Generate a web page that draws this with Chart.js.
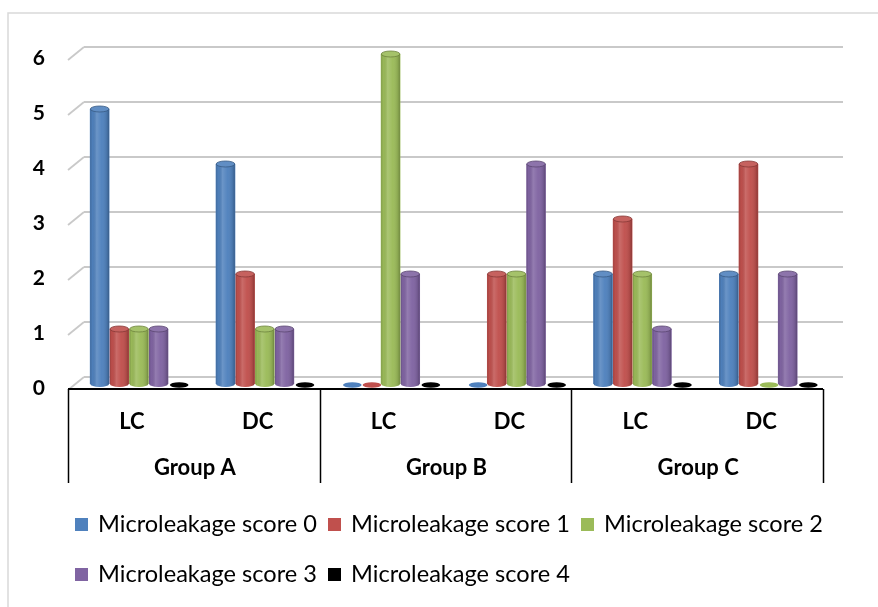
<!DOCTYPE html>
<html><head><meta charset="utf-8">
<script src="https://cdn.jsdelivr.net/npm/chart.js@4.4.1/dist/chart.umd.min.js"></script>
<style>html,body{margin:0;padding:0;background:#fff}#wrap{width:878px;height:607px;position:relative}canvas{display:block}</style>
</head><body><div id="wrap"><canvas id="c" width="878" height="607"></canvas></div>
<script>
const groups = ['Group A', 'Group B', 'Group C'];
const subLabels = ['LC', 'DC', 'LC', 'DC', 'LC', 'DC'];
const categories = ['Group A LC', 'Group A DC', 'Group B LC', 'Group B DC', 'Group C LC', 'Group C DC'];
const seriesNames = ['Microleakage score 0', 'Microleakage score 1', 'Microleakage score 2', 'Microleakage score 3', 'Microleakage score 4'];
const score0 = [5, 4, 0, 0, 2, 2];
const score1 = [1, 2, 0, 2, 3, 4];
const score2 = [1, 1, 6, 2, 2, 0];
const score3 = [1, 1, 2, 4, 1, 2];
const score4 = [0, 0, 0, 0, 0, 0];
const yTicks = [0, 1, 2, 3, 4, 5, 6];
const colors = ['#4F81BD', '#C0504D', '#9BBB59', '#8064A2', '#000000'];

const seriesValues = [score0, score1, score2, score3, score4];

const FONT = 'Lato, "Open Sans", "DejaVu Sans", sans-serif';

function shade(hex, amt) {
  const n = parseInt(hex.slice(1), 16);
  let r = (n >> 16) & 255, g = (n >> 8) & 255, b = n & 255;
  const f = v => Math.max(0, Math.min(255, Math.round(amt >= 0 ? v + (255 - v) * amt : v * (1 + amt))));
  return 'rgb(' + f(r) + ',' + f(g) + ',' + f(b) + ')';
}

function fitText(ctx, text, x, y, targetW) {
  const w = ctx.measureText(text).width;
  const s = targetW / w;
  ctx.save();
  ctx.translate(x, y);
  ctx.scale(s, 1);
  ctx.fillText(text, 0, 0);
  ctx.restore();
}

const decor = {
  id: 'decor',
  beforeDatasetsDraw(chart) {
    const ctx = chart.ctx, y = chart.scales.y, a = chart.chartArea;
    ctx.save();
    ctx.strokeStyle = '#d9d9d9'; ctx.lineWidth = 1.5;
    ctx.beginPath(); ctx.moveTo(8, 607); ctx.lineTo(8, 13); ctx.lineTo(878, 13); ctx.stroke();
    ctx.strokeStyle = '#c9c9c9'; ctx.lineWidth = 1.8;
    yTicks.forEach(v => {
      const py = y.getPixelForValue(v) - 7;
      ctx.beginPath(); ctx.moveTo(a.left + 8, py); ctx.lineTo(a.right + 12, py); ctx.stroke();
      ctx.beginPath(); ctx.moveTo(a.left - 8, py + 13); ctx.lineTo(a.left + 8, py); ctx.stroke();
    });
    ctx.restore();
  },
  afterDatasetsDraw(chart) {
    const ctx = chart.ctx, x = chart.scales.x, y = chart.scales.y, a = chart.chartArea;
    const base = y.getPixelForValue(0);
    ctx.save();
    chart.data.datasets.forEach((ds, di) => {
      const meta = chart.getDatasetMeta(di);
      const col = colors[di];
      meta.data.forEach((el, i) => {
        const w = el.width, cx = el.x, top = el.y;
        const l = cx - w / 2, r = cx + w / 2;
        const rx = w / 2 - 0.5;
        if (ds.data[i] === 0) {
          ctx.fillStyle = col;
          ctx.beginPath(); ctx.ellipse(cx + 1, base + 1, rx, 2.8, 0, 0, Math.PI * 2); ctx.fill();
          return;
        }
        ctx.fillStyle = col;
        ctx.beginPath(); ctx.ellipse(cx, base, rx, 3, 0, 0, Math.PI); ctx.fill();
        const g = ctx.createLinearGradient(l, 0, r, 0);
        g.addColorStop(0, 'rgba(0,0,0,0.22)');
        g.addColorStop(0.12, 'rgba(0,0,0,0.02)');
        g.addColorStop(0.35, 'rgba(255,255,255,0.16)');
        g.addColorStop(0.6, 'rgba(255,255,255,0.03)');
        g.addColorStop(0.88, 'rgba(0,0,0,0.12)');
        g.addColorStop(1, 'rgba(0,0,0,0.32)');
        ctx.fillStyle = g;
        ctx.beginPath();
        ctx.moveTo(l + 0.5, top);
        ctx.lineTo(l + 0.5, base);
        ctx.ellipse(cx, base, rx, 3, 0, Math.PI, 0, true);
        ctx.lineTo(r - 0.5, top);
        ctx.closePath();
        ctx.fill();
        ctx.fillStyle = shade(col, 0.1);
        ctx.strokeStyle = shade(col, -0.3);
        ctx.lineWidth = 0.8;
        ctx.beginPath(); ctx.ellipse(cx, top, rx, 3, 0, 0, Math.PI * 2); ctx.fill(); ctx.stroke();
      });
    });

    const catW = (a.right - a.left) / categories.length;
    const x0 = a.left - 8;
    const axisY = base + 5;
    ctx.strokeStyle = '#000'; ctx.lineWidth = 2;
    ctx.beginPath(); ctx.moveTo(x0, axisY); ctx.lineTo(x0 + catW * categories.length, axisY); ctx.stroke();
    ctx.lineWidth = 1.5;
    for (let k = 0; k <= groups.length; k++) {
      const px = Math.round(x0 + k * 2 * catW) + 0.5;
      ctx.beginPath(); ctx.moveTo(px, axisY); ctx.lineTo(px, axisY + 94); ctx.stroke();
    }
    ctx.fillStyle = '#000';
    ctx.textAlign = 'center'; ctx.textBaseline = 'middle';
    ctx.font = 'bold 22px ' + FONT;
    subLabels.forEach((s, i) => ctx.fillText(s, x.getPixelForValue(i) - 7, 422));
    groups.forEach((gname, k) => {
      const mx = (x.getPixelForValue(2 * k) + x.getPixelForValue(2 * k + 1)) / 2 - 7;
      ctx.fillText(gname, mx, 468);
    });
    ctx.textAlign = 'right';
    ctx.font = 'bold 21px ' + FONT;
    yTicks.forEach(v => ctx.fillText(String(v), 45, y.getPixelForValue(v) + 4));

    ctx.textAlign = 'left'; ctx.textBaseline = 'alphabetic';
    ctx.font = '23px ' + FONT;
    seriesNames.forEach((name, i) => {
      const row = i < 3 ? 0 : 1, c = i % 3;
      const sx = 75 + c * 253, baseY = 532 + row * 50;
      ctx.fillStyle = colors[i];
      ctx.fillRect(sx, baseY - 14, 13, 13);
      ctx.fillStyle = '#000';
      fitText(ctx, name, sx + 23, baseY, 219);
    });
    ctx.restore();
  }
};

new Chart(document.getElementById('c'), {
  type: 'bar',
  data: {
    labels: categories,
    datasets: seriesNames.map((n, i) => ({
      label: n,
      data: seriesValues[i],
      backgroundColor: colors[i],
      borderWidth: 0,
      categoryPercentage: 0.78,
      barPercentage: 1.0
    }))
  },
  options: {
    responsive: false,
    animation: false,
    devicePixelRatio: 1,
    layout: { padding: { left: 76, right: 47, top: 54, bottom: 223 } },
    plugins: { legend: { display: false }, tooltip: { enabled: false } },
    scales: {
      x: { display: false, offset: true },
      y: { display: false, min: 0, max: 6, ticks: { stepSize: 1 } }
    }
  },
  plugins: [decor]
});
</script>
</body></html>
